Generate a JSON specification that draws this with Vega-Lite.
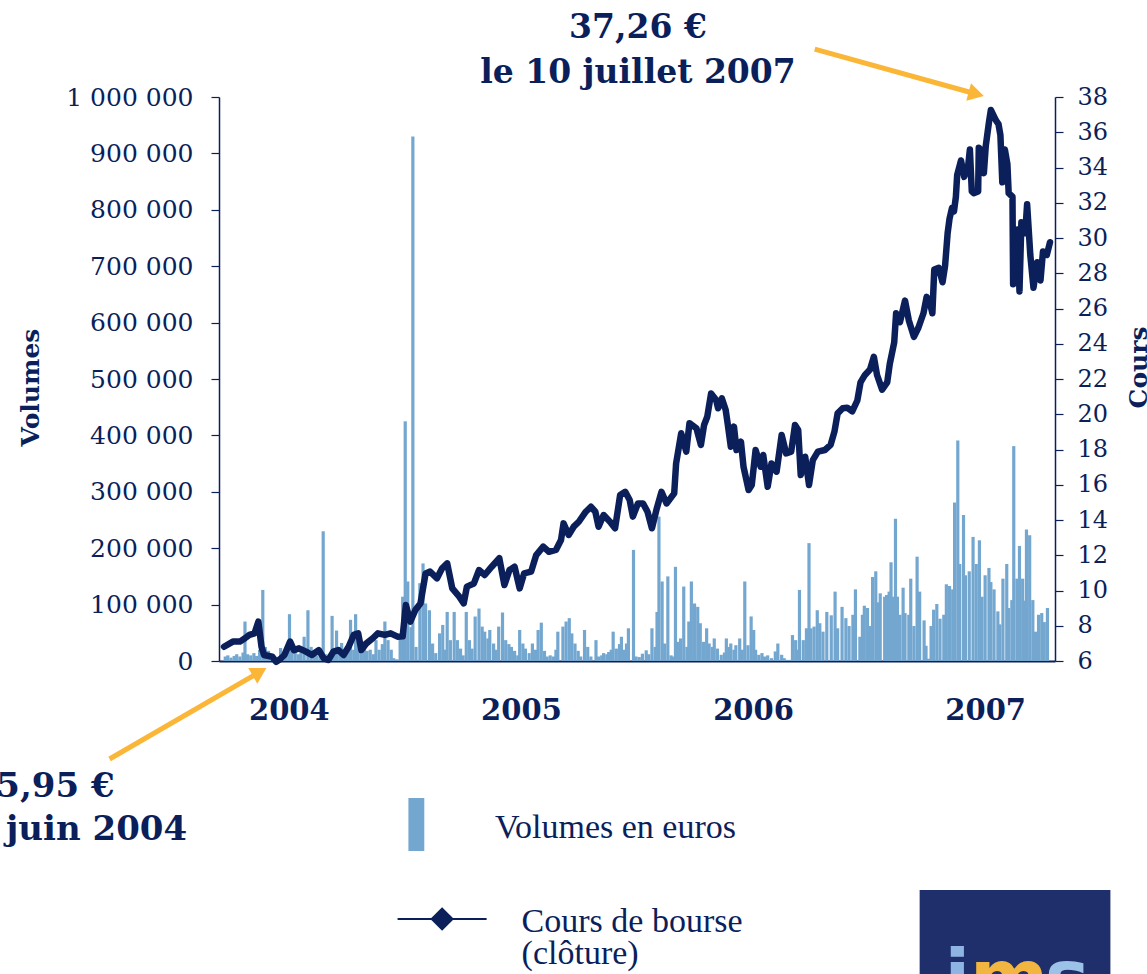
{
  "$schema": "https://vega.github.io/schema/vega-lite/v6.json",
  "width": 836,
  "height": 564,
  "autosize": {"type": "none"},
  "padding": {"left": 219, "top": 97, "right": 92, "bottom": 313},
  "background": "white",
  "config": {"view": {"stroke": null}, "font": "DejaVu Serif"},
  "datasets": {
    "volumes": [
      {"date":"2004-03-23","volume":8000},{"date":"2004-03-27","volume":10000},{"date":"2004-04-01","volume":6000},{"date":"2004-04-06","volume":9000},{"date":"2004-04-10","volume":12000},{"date":"2004-04-15","volume":8000},{"date":"2004-04-20","volume":15000},{"date":"2004-04-23","volume":70000},{"date":"2004-04-27","volume":12000},{"date":"2004-05-02","volume":10000},{"date":"2004-05-07","volume":14000},{"date":"2004-05-11","volume":9000},{"date":"2004-05-16","volume":20000},{"date":"2004-05-21","volume":126000},{"date":"2004-05-25","volume":25000},{"date":"2004-05-30","volume":18000},{"date":"2004-06-04","volume":12000},{"date":"2004-06-08","volume":8000},{"date":"2004-06-13","volume":5000},{"date":"2004-06-18","volume":23000},{"date":"2004-06-22","volume":10000},{"date":"2004-06-27","volume":12000},{"date":"2004-07-02","volume":83000},{"date":"2004-07-06","volume":30000},{"date":"2004-07-11","volume":18000},{"date":"2004-07-16","volume":12000},{"date":"2004-07-20","volume":20000},{"date":"2004-07-25","volume":43000},{"date":"2004-07-31","volume":90000},{"date":"2004-08-05","volume":25000},{"date":"2004-08-10","volume":15000},{"date":"2004-08-14","volume":10000},{"date":"2004-08-19","volume":8000},{"date":"2004-08-24","volume":230000},{"date":"2004-08-28","volume":12000},{"date":"2004-09-02","volume":6000},{"date":"2004-09-07","volume":80000},{"date":"2004-09-11","volume":15000},{"date":"2004-09-14","volume":54000},{"date":"2004-09-19","volume":20000},{"date":"2004-09-22","volume":32000},{"date":"2004-09-27","volume":10000},{"date":"2004-10-01","volume":25000},{"date":"2004-10-06","volume":73000},{"date":"2004-10-11","volume":20000},{"date":"2004-10-14","volume":83000},{"date":"2004-10-18","volume":50000},{"date":"2004-10-23","volume":15000},{"date":"2004-10-28","volume":35000},{"date":"2004-11-01","volume":18000},{"date":"2004-11-06","volume":20000},{"date":"2004-11-11","volume":12000},{"date":"2004-11-15","volume":37000},{"date":"2004-11-20","volume":20000},{"date":"2004-11-25","volume":30000},{"date":"2004-11-29","volume":70000},{"date":"2004-12-04","volume":37000},{"date":"2004-12-09","volume":20000},{"date":"2004-12-13","volume":5000},{"date":"2004-12-18","volume":3000},{"date":"2004-12-23","volume":40000},{"date":"2004-12-27","volume":114000},{"date":"2004-12-31","volume":425000},{"date":"2005-01-04","volume":141000},{"date":"2005-01-09","volume":60000},{"date":"2005-01-12","volume":930000},{"date":"2005-01-17","volume":25000},{"date":"2005-01-23","volume":138000},{"date":"2005-01-28","volume":173000},{"date":"2005-02-01","volume":102000},{"date":"2005-02-07","volume":90000},{"date":"2005-02-12","volume":31000},{"date":"2005-02-17","volume":14000},{"date":"2005-02-23","volume":49000},{"date":"2005-02-28","volume":64000},{"date":"2005-03-03","volume":20000},{"date":"2005-03-07","volume":87000},{"date":"2005-03-12","volume":37000},{"date":"2005-03-18","volume":87000},{"date":"2005-03-23","volume":37000},{"date":"2005-03-28","volume":22000},{"date":"2005-04-01","volume":10000},{"date":"2005-04-06","volume":87000},{"date":"2005-04-11","volume":37000},{"date":"2005-04-15","volume":22000},{"date":"2005-04-20","volume":79000},{"date":"2005-04-26","volume":93000},{"date":"2005-05-01","volume":61000},{"date":"2005-05-05","volume":52000},{"date":"2005-05-10","volume":40000},{"date":"2005-05-13","volume":55000},{"date":"2005-05-19","volume":31000},{"date":"2005-05-23","volume":20000},{"date":"2005-05-27","volume":61000},{"date":"2005-06-02","volume":86000},{"date":"2005-06-07","volume":37000},{"date":"2005-06-12","volume":30000},{"date":"2005-06-16","volume":25000},{"date":"2005-06-21","volume":18000},{"date":"2005-06-26","volume":10000},{"date":"2005-06-29","volume":55000},{"date":"2005-07-04","volume":31000},{"date":"2005-07-08","volume":22000},{"date":"2005-07-14","volume":14000},{"date":"2005-07-19","volume":31000},{"date":"2005-07-24","volume":20000},{"date":"2005-07-28","volume":55000},{"date":"2005-08-02","volume":68000},{"date":"2005-08-07","volume":18000},{"date":"2005-08-11","volume":8000},{"date":"2005-08-16","volume":10000},{"date":"2005-08-21","volume":8000},{"date":"2005-08-25","volume":20000},{"date":"2005-08-28","volume":52000},{"date":"2005-09-05","volume":61000},{"date":"2005-09-10","volume":70000},{"date":"2005-09-15","volume":76000},{"date":"2005-09-19","volume":49000},{"date":"2005-09-24","volume":31000},{"date":"2005-09-29","volume":18000},{"date":"2005-10-03","volume":8000},{"date":"2005-10-09","volume":55000},{"date":"2005-10-14","volume":25000},{"date":"2005-10-19","volume":8000},{"date":"2005-10-27","volume":37000},{"date":"2005-10-31","volume":8000},{"date":"2005-11-05","volume":10000},{"date":"2005-11-08","volume":14000},{"date":"2005-11-13","volume":12000},{"date":"2005-11-16","volume":16000},{"date":"2005-11-20","volume":20000},{"date":"2005-11-23","volume":52000},{"date":"2005-11-28","volume":22000},{"date":"2005-12-03","volume":30000},{"date":"2005-12-06","volume":43000},{"date":"2005-12-11","volume":20000},{"date":"2005-12-14","volume":31000},{"date":"2005-12-17","volume":58000},{"date":"2005-12-25","volume":197000},{"date":"2005-12-29","volume":8000},{"date":"2006-01-03","volume":7000},{"date":"2006-01-08","volume":13000},{"date":"2006-01-14","volume":19000},{"date":"2006-01-18","volume":12000},{"date":"2006-01-23","volume":58000},{"date":"2006-01-28","volume":25000},{"date":"2006-01-31","volume":87000},{"date":"2006-02-03","volume":256000},{"date":"2006-02-08","volume":141000},{"date":"2006-02-12","volume":31000},{"date":"2006-02-17","volume":150000},{"date":"2006-02-22","volume":10000},{"date":"2006-02-25","volume":8000},{"date":"2006-03-01","volume":167000},{"date":"2006-03-05","volume":34000},{"date":"2006-03-09","volume":40000},{"date":"2006-03-14","volume":132000},{"date":"2006-03-19","volume":25000},{"date":"2006-03-22","volume":70000},{"date":"2006-03-26","volume":141000},{"date":"2006-03-31","volume":102000},{"date":"2006-04-05","volume":96000},{"date":"2006-04-09","volume":67000},{"date":"2006-04-14","volume":34000},{"date":"2006-04-19","volume":58000},{"date":"2006-04-23","volume":31000},{"date":"2006-04-28","volume":25000},{"date":"2006-05-01","volume":40000},{"date":"2006-05-06","volume":22000},{"date":"2006-05-12","volume":11000},{"date":"2006-05-17","volume":15000},{"date":"2006-05-20","volume":40000},{"date":"2006-05-24","volume":25000},{"date":"2006-05-27","volume":31000},{"date":"2006-06-01","volume":20000},{"date":"2006-06-04","volume":28000},{"date":"2006-06-10","volume":40000},{"date":"2006-06-14","volume":20000},{"date":"2006-06-18","volume":141000},{"date":"2006-06-23","volume":28000},{"date":"2006-06-28","volume":79000},{"date":"2006-07-02","volume":55000},{"date":"2006-07-05","volume":20000},{"date":"2006-07-10","volume":11000},{"date":"2006-07-15","volume":14000},{"date":"2006-07-19","volume":8000},{"date":"2006-07-24","volume":10000},{"date":"2006-07-30","volume":5000},{"date":"2006-08-05","volume":17000},{"date":"2006-08-09","volume":31000},{"date":"2006-08-15","volume":11000},{"date":"2006-08-19","volume":5000},{"date":"2006-08-24","volume":2000},{"date":"2006-08-29","volume":2000},{"date":"2006-09-01","volume":46000},{"date":"2006-09-06","volume":37000},{"date":"2006-09-09","volume":20000},{"date":"2006-09-12","volume":126000},{"date":"2006-09-18","volume":37000},{"date":"2006-09-23","volume":58000},{"date":"2006-09-27","volume":209000},{"date":"2006-09-30","volume":58000},{"date":"2006-10-05","volume":61000},{"date":"2006-10-10","volume":90000},{"date":"2006-10-14","volume":67000},{"date":"2006-10-19","volume":52000},{"date":"2006-10-25","volume":87000},{"date":"2006-11-01","volume":81000},{"date":"2006-11-07","volume":123000},{"date":"2006-11-11","volume":58000},{"date":"2006-11-18","volume":96000},{"date":"2006-11-24","volume":76000},{"date":"2006-11-29","volume":62000},{"date":"2006-12-05","volume":82000},{"date":"2006-12-09","volume":127000},{"date":"2006-12-16","volume":43000},{"date":"2006-12-20","volume":82000},{"date":"2006-12-23","volume":98000},{"date":"2006-12-28","volume":94000},{"date":"2006-12-31","volume":62000},{"date":"2007-01-05","volume":149000},{"date":"2007-01-10","volume":159000},{"date":"2007-01-14","volume":104000},{"date":"2007-01-17","volume":120000},{"date":"2007-01-24","volume":114000},{"date":"2007-01-27","volume":117000},{"date":"2007-01-31","volume":123000},{"date":"2007-02-03","volume":175000},{"date":"2007-02-06","volume":114000},{"date":"2007-02-10","volume":252000},{"date":"2007-02-13","volume":114000},{"date":"2007-02-17","volume":82000},{"date":"2007-02-22","volume":130000},{"date":"2007-02-25","volume":85000},{"date":"2007-03-03","volume":82000},{"date":"2007-03-06","volume":146000},{"date":"2007-03-11","volume":62000},{"date":"2007-03-16","volume":185000},{"date":"2007-03-20","volume":123000},{"date":"2007-03-27","volume":72000},{"date":"2007-03-30","volume":27000},{"date":"2007-04-03","volume":4000},{"date":"2007-04-07","volume":62000},{"date":"2007-04-11","volume":91000},{"date":"2007-04-16","volume":101000},{"date":"2007-04-21","volume":75000},{"date":"2007-04-27","volume":82000},{"date":"2007-05-01","volume":136000},{"date":"2007-05-06","volume":133000},{"date":"2007-05-11","volume":127000},{"date":"2007-05-14","volume":281000},{"date":"2007-05-19","volume":391000},{"date":"2007-05-22","volume":172000},{"date":"2007-05-28","volume":259000},{"date":"2007-05-31","volume":152000},{"date":"2007-06-06","volume":159000},{"date":"2007-06-12","volume":220000},{"date":"2007-06-17","volume":172000},{"date":"2007-06-22","volume":214000},{"date":"2007-06-26","volume":114000},{"date":"2007-07-01","volume":152000},{"date":"2007-07-07","volume":165000},{"date":"2007-07-10","volume":140000},{"date":"2007-07-15","volume":127000},{"date":"2007-07-21","volume":88000},{"date":"2007-07-24","volume":65000},{"date":"2007-07-29","volume":146000},{"date":"2007-08-04","volume":172000},{"date":"2007-08-07","volume":94000},{"date":"2007-08-12","volume":108000},{"date":"2007-08-15","volume":381000},{"date":"2007-08-20","volume":146000},{"date":"2007-08-24","volume":204000},{"date":"2007-08-29","volume":146000},{"date":"2007-09-01","volume":107000},{"date":"2007-09-04","volume":233000},{"date":"2007-09-09","volume":223000},{"date":"2007-09-14","volume":108000},{"date":"2007-09-18","volume":52000},{"date":"2007-09-23","volume":82000},{"date":"2007-09-28","volume":85000},{"date":"2007-10-02","volume":69000},{"date":"2007-10-07","volume":94000}
    ],
    "cours": [
      {"date":"2004-03-21","cours":6.81},{"date":"2004-04-04","cours":7.10},{"date":"2004-04-15","cours":7.10},{"date":"2004-04-23","cours":7.29},{"date":"2004-04-30","cours":7.48},{"date":"2004-05-08","cours":7.57},{"date":"2004-05-14","cours":8.23},{"date":"2004-05-19","cours":6.81},{"date":"2004-05-23","cours":6.34},{"date":"2004-06-05","cours":6.24},{"date":"2004-06-11","cours":5.95},{"date":"2004-06-17","cours":6.10},{"date":"2004-06-24","cours":6.34},{"date":"2004-07-03","cours":7.10},{"date":"2004-07-09","cours":6.62},{"date":"2004-07-17","cours":6.72},{"date":"2004-07-28","cours":6.53},{"date":"2004-08-06","cours":6.34},{"date":"2004-08-17","cours":6.62},{"date":"2004-08-25","cours":6.15},{"date":"2004-09-01","cours":6.06},{"date":"2004-09-09","cours":6.53},{"date":"2004-09-17","cours":6.62},{"date":"2004-09-25","cours":6.34},{"date":"2004-10-03","cours":6.81},{"date":"2004-10-11","cours":7.48},{"date":"2004-10-18","cours":7.57},{"date":"2004-10-23","cours":6.62},{"date":"2004-10-31","cours":7.00},{"date":"2004-11-10","cours":7.29},{"date":"2004-11-18","cours":7.57},{"date":"2004-11-29","cours":7.48},{"date":"2004-12-08","cours":7.57},{"date":"2004-12-19","cours":7.38},{"date":"2004-12-27","cours":7.40},
      {"date":"2005-01-01","cours":9.18},{"date":"2005-01-08","cours":8.23},{"date":"2005-01-16","cours":8.89},{"date":"2005-01-24","cours":9.27},{"date":"2005-02-01","cours":10.97},{"date":"2005-02-08","cours":11.07},{"date":"2005-02-19","cours":10.69},{"date":"2005-02-27","cours":11.26},{"date":"2005-03-07","cours":11.54},{"date":"2005-03-15","cours":10.12},{"date":"2005-03-26","cours":9.65},{"date":"2005-04-02","cours":9.27},{"date":"2005-04-07","cours":10.22},{"date":"2005-04-18","cours":10.40},{"date":"2005-04-26","cours":11.16},{"date":"2005-05-05","cours":10.88},{"date":"2005-05-16","cours":11.35},{"date":"2005-05-28","cours":11.83},{"date":"2005-06-05","cours":10.31},{"date":"2005-06-13","cours":11.16},{"date":"2005-06-21","cours":11.35},{"date":"2005-06-29","cours":10.12},{"date":"2005-07-06","cours":10.97},{"date":"2005-07-17","cours":11.07},{"date":"2005-07-25","cours":12.01},{"date":"2005-08-05","cours":12.49},{"date":"2005-08-14","cours":12.20},{"date":"2005-08-25","cours":12.30},{"date":"2005-09-02","cours":12.87},{"date":"2005-09-06","cours":13.81},{"date":"2005-09-14","cours":13.15},{"date":"2005-09-22","cours":13.62},{"date":"2005-09-30","cours":13.90},{"date":"2005-10-11","cours":14.47},{"date":"2005-10-19","cours":14.75},{"date":"2005-10-26","cours":14.47},{"date":"2005-10-31","cours":13.62},{"date":"2005-11-08","cours":14.28},{"date":"2005-11-18","cours":13.90},{"date":"2005-11-26","cours":13.53},{"date":"2005-12-04","cours":15.42},{"date":"2005-12-12","cours":15.60},{"date":"2005-12-19","cours":15.13},{"date":"2005-12-24","cours":14.19},
      {"date":"2006-01-01","cours":14.94},{"date":"2006-01-09","cours":14.94},{"date":"2006-01-16","cours":14.47},{"date":"2006-01-23","cours":13.53},{"date":"2006-01-30","cours":14.57},{"date":"2006-02-07","cours":15.60},{"date":"2006-02-15","cours":14.94},{"date":"2006-02-27","cours":15.51},{"date":"2006-03-02","cours":17.21},{"date":"2006-03-10","cours":18.92},{"date":"2006-03-18","cours":17.88},{"date":"2006-03-23","cours":19.49},{"date":"2006-04-03","cours":19.20},{"date":"2006-04-10","cours":18.26},{"date":"2006-04-15","cours":19.39},{"date":"2006-04-20","cours":19.86},{"date":"2006-04-26","cours":21.18},{"date":"2006-05-04","cours":20.81},{"date":"2006-05-07","cours":20.34},{"date":"2006-05-13","cours":20.90},{"date":"2006-05-19","cours":20.24},{"date":"2006-05-22","cours":19.49},{"date":"2006-05-27","cours":18.16},{"date":"2006-06-01","cours":19.30},{"date":"2006-06-05","cours":17.97},{"date":"2006-06-12","cours":18.44},{"date":"2006-06-16","cours":17.02},{"date":"2006-06-24","cours":15.70},{"date":"2006-06-29","cours":15.99},{"date":"2006-07-05","cours":17.97},{"date":"2006-07-13","cours":17.02},{"date":"2006-07-17","cours":17.69},{"date":"2006-07-24","cours":15.89},{"date":"2006-07-30","cours":17.21},{"date":"2006-08-07","cours":16.74},{"date":"2006-08-15","cours":18.82},{"date":"2006-08-22","cours":17.78},{"date":"2006-08-30","cours":17.88},{"date":"2006-09-05","cours":19.39},{"date":"2006-09-10","cours":19.11},{"date":"2006-09-14","cours":16.55},{"date":"2006-09-21","cours":17.59},{"date":"2006-09-27","cours":15.99},{"date":"2006-10-03","cours":17.40},{"date":"2006-10-11","cours":17.88},{"date":"2006-10-22","cours":17.97},{"date":"2006-10-31","cours":18.26},{"date":"2006-11-06","cours":19.01},{"date":"2006-11-11","cours":20.05},{"date":"2006-11-19","cours":20.34},{"date":"2006-11-26","cours":20.37},{"date":"2006-12-04","cours":20.16},{"date":"2006-12-12","cours":20.78},{"date":"2006-12-17","cours":21.81},{"date":"2006-12-24","cours":22.23},
      {"date":"2007-01-01","cours":22.54},{"date":"2007-01-07","cours":23.26},{"date":"2007-01-12","cours":22.23},{"date":"2007-01-20","cours":21.40},{"date":"2007-01-28","cours":21.81},{"date":"2007-02-01","cours":22.85},{"date":"2007-02-08","cours":24.08},{"date":"2007-02-11","cours":25.73},{"date":"2007-02-17","cours":25.22},{"date":"2007-02-25","cours":26.45},{"date":"2007-03-03","cours":25.32},{"date":"2007-03-11","cours":24.39},{"date":"2007-03-18","cours":24.91},{"date":"2007-03-26","cours":25.73},{"date":"2007-03-31","cours":26.66},{"date":"2007-04-05","cours":26.35},{"date":"2007-04-09","cours":25.73},{"date":"2007-04-12","cours":28.21},{"date":"2007-04-19","cours":28.31},{"date":"2007-04-25","cours":27.49},{"date":"2007-04-29","cours":28.42},{"date":"2007-05-03","cours":30.27},{"date":"2007-05-06","cours":31.10},{"date":"2007-05-10","cours":31.72},{"date":"2007-05-13","cours":31.51},{"date":"2007-05-16","cours":32.34},{"date":"2007-05-18","cours":33.57},{"date":"2007-05-24","cours":34.40},{"date":"2007-05-29","cours":33.47},{"date":"2007-06-04","cours":33.99},{"date":"2007-06-07","cours":35.02},{"date":"2007-06-10","cours":32.64},{"date":"2007-06-13","cours":32.54},{"date":"2007-06-20","cours":32.64},{"date":"2007-06-21","cours":35.12},{"date":"2007-06-24","cours":35.02},{"date":"2007-06-27","cours":33.99},{"date":"2007-06-29","cours":33.68},{"date":"2007-07-02","cours":35.23},{"date":"2007-07-07","cours":36.57},{"date":"2007-07-10","cours":37.26},{"date":"2007-07-18","cours":36.67},{"date":"2007-07-22","cours":36.46},{"date":"2007-07-25","cours":35.84},{"date":"2007-07-28","cours":33.16},{"date":"2007-08-01","cours":35.02},{"date":"2007-08-05","cours":34.19},{"date":"2007-08-07","cours":32.54},{"date":"2007-08-13","cours":32.34},{"date":"2007-08-14","cours":27.38},{"date":"2007-08-21","cours":30.48},{"date":"2007-08-24","cours":26.97},{"date":"2007-08-27","cours":30.89},{"date":"2007-09-02","cours":30.27},{"date":"2007-09-05","cours":31.92},{"date":"2007-09-10","cours":29.04},{"date":"2007-09-15","cours":27.18},{"date":"2007-09-21","cours":28.62},{"date":"2007-09-26","cours":27.59},{"date":"2007-09-30","cours":29.24},{"date":"2007-10-06","cours":29.04},{"date":"2007-10-11","cours":29.76}
    ]
  },
  "encoding": {
    "x": {
      "field": "date",
      "type": "temporal",
      "scale": {"domain": [{"year": 2004, "month": 3, "date": 21, "utc": true}, {"year": 2007, "month": 10, "date": 11, "utc": true}], "nice": false},
      "axis": {
        "orient": "bottom",
        "title": null,
        "values": [{"year": 2004, "month": 7, "date": 1, "utc": true}, {"year": 2005, "month": 7, "date": 1, "utc": true}, {"year": 2006, "month": 7, "date": 1, "utc": true}, {"year": 2007, "month": 7, "date": 1, "utc": true}],
        "format": "%Y",
        "ticks": false,
        "tickSize": 0,
        "grid": false,
        "domain": true,
        "domainColor": "#0B1F5B",
        "domainWidth": 2,
        "labelFont": "DejaVu Serif",
        "labelFontWeight": "bold",
        "labelFontSize": 29,
        "labelColor": "#0B1F5B",
        "labelPadding": 35,
        "labelFlush": false,
        "labelOverlap": false
      }
    }
  },
  "resolve": {"scale": {"y": "independent"}},
  "layer": [
    {
      "data": {"name": "volumes"},
      "mark": {"type": "bar", "width": 3.2, "color": "#74A7D0"},
      "encoding": {
        "y": {
          "field": "volume",
          "type": "quantitative",
          "scale": {"domain": [0, 1000000], "nice": false},
          "axis": {
            "orient": "left",
            "title": "Volumes",
            "values": [0, 100000, 200000, 300000, 400000, 500000, 600000, 700000, 800000, 900000, 1000000],
            "labelExpr": "replace(format(datum.value, ','), regexp(',', 'g'), ' ')",
            "labelFont": "DejaVu Serif",
            "labelFontSize": 25,
            "labelColor": "#0B1F5B",
            "labelPadding": 18,
            "tickSize": 8,
            "tickColor": "#0B1F5B",
            "tickWidth": 1.2,
            "domainColor": "#0B1F5B",
            "domainWidth": 1.5,
            "grid": false,
            "titleFont": "DejaVu Serif",
            "titleFontWeight": "bold",
            "titleFontSize": 25,
            "titleColor": "#0B1F5B",
            "titleAngle": 270,
            "titleAlign": "center",
            "titleBaseline": "alphabetic",
            "titleX": -181,
            "titleY": 290
          }
        }
      }
    },
    {
      "encoding": {
        "y": {
          "field": "cours",
          "type": "quantitative",
          "scale": {"domain": [6, 38], "nice": false, "zero": false},
          "axis": {
            "orient": "right",
            "title": "Cours",
            "values": [6, 8, 10, 12, 14, 16, 18, 20, 22, 24, 26, 28, 30, 32, 34, 36, 38],
            "labelFont": "DejaVu Serif",
            "labelFontSize": 24,
            "labelColor": "#0B1F5B",
            "labelPadding": 14,
            "tickSize": 8,
            "tickColor": "#0B1F5B",
            "tickWidth": 1.2,
            "domainColor": "#0B1F5B",
            "domainWidth": 1.5,
            "grid": false,
            "titleFont": "DejaVu Serif",
            "titleFontWeight": "bold",
            "titleFontSize": 25,
            "titleColor": "#0B1F5B",
            "titleAngle": 270,
            "titleAlign": "center",
            "titleBaseline": "alphabetic",
            "titleX": 91,
            "titleY": 270
          }
        }
      },
      "layer": [
        {
          "data": {"name": "cours"},
          "mark": {"type": "line", "color": "#0B1F5B", "strokeWidth": 6.5, "strokeJoin": "round", "strokeCap": "round"}
        },
        {
          "data": {"values": [
            {"date": "2006-10-06", "cours": 40.72, "date2": "2007-06-17", "cours2": 38.17},
            {"date": "2003-09-23", "cours": 0.44, "date2": "2004-05-16", "cours2": 5.38}
          ]},
          "mark": {"type": "rule", "color": "#FBB637", "strokeWidth": 5, "strokeCap": "butt"},
          "encoding": {"x2": {"field": "date2"}, "y2": {"field": "cours2"}}
        },
        {
          "data": {"values": [{"date": "2007-06-17", "cours": 38.17}]},
          "mark": {"type": "point", "shape": "triangle-right", "filled": true, "opacity": 1, "color": "#FBB637", "size": 330, "angle": 15}
        },
        {
          "data": {"values": [{"date": "2004-05-16", "cours": 5.38}]},
          "mark": {"type": "point", "shape": "triangle-right", "filled": true, "opacity": 1, "color": "#FBB637", "size": 330, "angle": 330}
        },
        {
          "data": {"values": [
            {"date": "2006-01-01", "cours": 41.35, "texte": "37,26 €"},
            {"date": "2006-01-01", "cours": 38.79, "texte": "le 10 juillet 2007"}
          ]},
          "mark": {"type": "text", "align": "center", "baseline": "alphabetic", "font": "DejaVu Serif", "fontWeight": "bold", "fontSize": 33, "color": "#0B1F5B"},
          "encoding": {"text": {"field": "texte"}}
        },
        {
          "data": {"values": [
            {"date": "2003-10-01", "cours": -1.72, "texte": "5,95 €"},
            {"date": "2004-01-23", "cours": -4.16, "texte": "juin 2004"}
          ]},
          "mark": {"type": "text", "align": "right", "baseline": "alphabetic", "font": "DejaVu Serif", "fontWeight": "bold", "fontSize": 34, "color": "#0B1F5B"},
          "encoding": {"text": {"field": "texte"}}
        },
        {
          "data": {"values": [{"date": "2005-01-05", "cours": -1.77, "date2": "2005-01-30", "cours2": -4.78}]},
          "mark": {"type": "rect", "color": "#74A7D0"},
          "encoding": {"x2": {"field": "date2"}, "y2": {"field": "cours2"}}
        },
        {
          "data": {"values": [{"date": "2004-12-19", "cours": -8.64, "date2": "2005-05-08"}]},
          "mark": {"type": "rule", "color": "#0B1F5B", "strokeWidth": 2},
          "encoding": {"x2": {"field": "date2"}}
        },
        {
          "data": {"values": [{"date": "2005-02-27", "cours": -8.64}]},
          "mark": {"type": "point", "shape": "diamond", "filled": true, "opacity": 1, "color": "#0B1F5B", "size": 560}
        },
        {
          "data": {"values": [
            {"date": "2005-05-21", "cours": -4.04, "texte": "Volumes en euros"},
            {"date": "2005-07-02", "cours": -9.38, "texte": "Cours de bourse"},
            {"date": "2005-07-02", "cours": -11.2, "texte": "(clôture)"}
          ]},
          "mark": {"type": "text", "align": "left", "baseline": "alphabetic", "font": "Liberation Serif", "fontSize": 34, "color": "#0B1F5B"},
          "encoding": {"text": {"field": "texte"}}
        },
        {
          "data": {"values": [{"date": "2007-03-20", "cours": -6.99, "date2": "2008-01-14", "cours2": -30}]},
          "mark": {"type": "rect", "color": "#1F2F6B"},
          "encoding": {"x2": {"field": "date2"}, "y2": {"field": "cours2"}}
        },
        {
          "data": {"values": [
            {"date": "2007-04-28", "cours": -13.4, "lettre": "i"},
            {"date": "2007-06-07", "cours": -13.4, "lettre": "m"},
            {"date": "2007-10-03", "cours": -13.4, "lettre": "s"}
          ]},
          "mark": {"type": "text", "align": "left", "baseline": "alphabetic", "font": "DejaVu Sans", "fontWeight": "bold", "fontSize": 75},
          "encoding": {
            "text": {"field": "lettre"},
            "color": {"field": "lettre", "type": "nominal", "scale": {"domain": ["i", "m", "s"], "range": ["#8EB4E3", "#F2B640", "#9CC2E8"]}, "legend": null}
          }
        }
      ]
    }
  ]
}
